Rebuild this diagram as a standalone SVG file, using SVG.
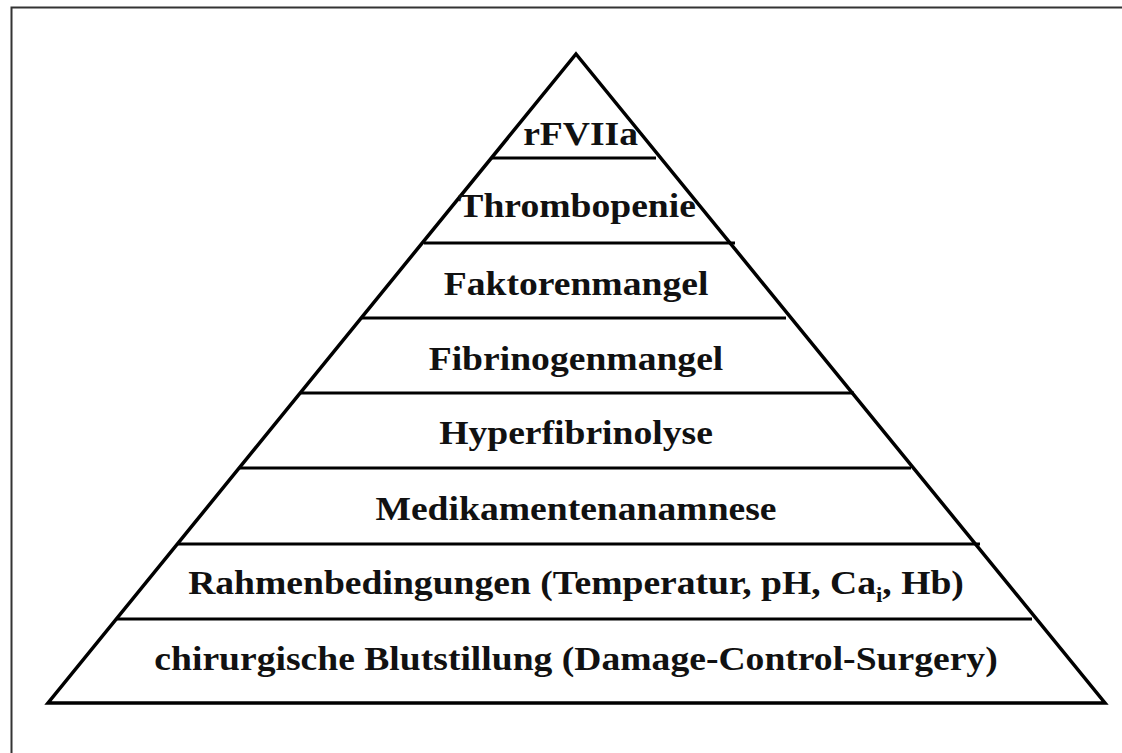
<svg xmlns="http://www.w3.org/2000/svg" width="1122" height="753" viewBox="0 0 1122 753">
  <style>
    .lbl { font-family: "Liberation Serif", "Times New Roman", serif; font-weight: bold; font-size: 33px; fill: #111; text-anchor: middle; }
    .sub { font-size: 20px; }
    .div { stroke: #000; stroke-width: 3; fill: none; }
    .outline { stroke: #000; stroke-width: 3.5; fill: #fff; stroke-linejoin: miter; }
  </style>
  <rect x="0" y="0" width="1122" height="753" fill="#fff"/>
  <rect id="frame" x="11.5" y="7.5" width="1200" height="800" fill="none" stroke="#333" stroke-width="2"/>
  <polygon id="pyramid" class="outline" points="576,54 1105,703 48,703"/>
  <g id="dividers">
    <line class="div" x1="492" y1="158" x2="656" y2="158"/>
    <line class="div" x1="424" y1="243" x2="735" y2="243"/>
    <line class="div" x1="362" y1="318" x2="786" y2="318"/>
    <line class="div" x1="301" y1="393" x2="854" y2="393"/>
    <line class="div" x1="240" y1="468" x2="911" y2="468"/>
    <line class="div" x1="178" y1="544" x2="980" y2="544"/>
    <line class="div" x1="117" y1="619" x2="1032" y2="619"/>
  </g>
  <g transform="translate(576,0) scale(1.14,1)">
    <g id="layer-rfviia"><text class="lbl" x="4" y="145">rFVIIa</text></g>
    <g id="layer-thrombopenie"><text class="lbl" x="1" y="217">Thrombopenie</text></g>
    <g id="layer-faktorenmangel"><text class="lbl" x="0" y="295">Faktorenmangel</text></g>
    <g id="layer-fibrinogenmangel"><text class="lbl" x="0" y="370">Fibrinogenmangel</text></g>
    <g id="layer-hyperfibrinolyse"><text class="lbl" x="0" y="444">Hyperfibrinolyse</text></g>
    <g id="layer-medikamentenanamnese"><text class="lbl" x="0" y="520">Medikamentenanamnese</text></g>
    <g id="layer-rahmenbedingungen"><text class="lbl" x="0" y="594">Rahmenbedingungen (Temperatur, pH, Ca<tspan class="sub" dy="8">i</tspan><tspan dy="-8">, Hb)</tspan></text></g>
    <g id="layer-chirurgisch"><text class="lbl" x="0" y="670">chirurgische Blutstillung (Damage-Control-Surgery)</text></g>
  </g>
</svg>
